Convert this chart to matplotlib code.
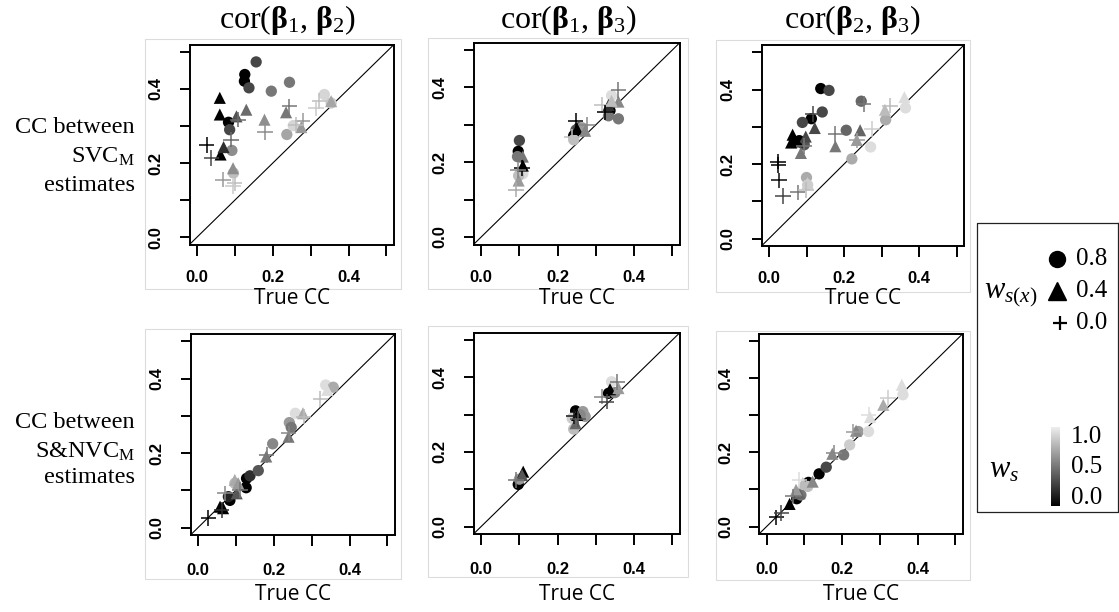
import numpy as np
import matplotlib
matplotlib.use('Agg')
import matplotlib.pyplot as plt
from matplotlib.colors import LinearSegmentedColormap, Normalize
from matplotlib.cm import ScalarMappable
from matplotlib.patches import Rectangle

plt.rcParams['font.family'] = ['Liberation Serif', 'DejaVu Serif']
plt.rcParams['mathtext.fontset'] = 'custom'
plt.rcParams['mathtext.rm'] = 'Liberation Serif'
plt.rcParams['mathtext.it'] = 'Liberation Serif:italic'
plt.rcParams['mathtext.bf'] = 'Liberation Serif:bold'

# ---------------- data ----------------
col_titles = [r'cor($\mathbf{\beta}_1$, $\mathbf{\beta}_2$)',
              r'cor($\mathbf{\beta}_1$, $\mathbf{\beta}_3$)',
              r'cor($\mathbf{\beta}_2$, $\mathbf{\beta}_3$)']
row_labels = [['CC between', r'SVC$_\mathrm{M}$', 'estimates'],
              ['CC between', r'S&NVC$_\mathrm{M}$', 'estimates']]
x_label = 'True CC'
ticks = [0.0, 0.1, 0.2, 0.3, 0.4, 0.5]
tick_labels = ['0.0', '', '0.2', '', '0.4', '']
wsx_levels = [0.8, 0.4, 0.0]
wsx_labels = ['0.8', '0.4', '0.0']
ws_labels = ['1.0', '0.5', '0.0']

# panel 1: top-left  (true CC, estimated CC, w_s(x), w_s)
p1_true = [0.156, 0.126, 0.125, 0.137, 0.196, 0.244, 0.083, 0.086, 0.092, 0.096, 0.237, 0.254, 0.336, 0.354,
           0.060, 0.060, 0.062, 0.070, 0.104, 0.130, 0.178, 0.235, 0.275, 0.095, 0.354,
           0.025, 0.038, 0.108, 0.090, 0.180, 0.244, 0.279, 0.323, 0.314, 0.068, 0.099, 0.095, 0.261]
p1_est = [0.473, 0.439, 0.421, 0.403, 0.394, 0.418, 0.310, 0.290, 0.234, 0.173, 0.277, 0.301, 0.385, 0.362,
          0.376, 0.331, 0.223, 0.243, 0.326, 0.344, 0.317, 0.337, 0.297, 0.186, 0.367,
          0.248, 0.214, 0.317, 0.263, 0.283, 0.353, 0.313, 0.367, 0.349, 0.155, 0.146, 0.137, 0.304]
p1_wsx = [0.8]*14 + [0.4]*11 + [0.0]*13
p1_ws = [0.3, 0.0, 0.0, 0.3, 0.5, 0.5, 0.0, 0.3, 0.6, 0.8, 0.7, 0.9, 0.9, 0.85,
         0.0, 0.0, 0.0, 0.2, 0.35, 0.45, 0.6, 0.5, 0.65, 0.6, 0.7,
         0.0, 0.3, 0.45, 0.45, 0.6, 0.5, 0.65, 0.8, 0.85, 0.65, 0.8, 0.85, 0.8]

# panel 2: top-middle
p2_true = [0.100, 0.097, 0.095, 0.109, 0.098, 0.248, 0.242, 0.255, 0.242, 0.264, 0.341, 0.337, 0.359, 0.333,
           0.109, 0.109, 0.098, 0.251, 0.272, 0.333, 0.359, 0.341,
           0.107, 0.097, 0.091, 0.247, 0.277, 0.238, 0.359, 0.316, 0.324]
p2_est = [0.258, 0.229, 0.215, 0.169, 0.164, 0.286, 0.271, 0.292, 0.260, 0.292, 0.378, 0.338, 0.316, 0.324,
          0.215, 0.191, 0.151, 0.289, 0.284, 0.353, 0.362, 0.364,
          0.185, 0.178, 0.127, 0.311, 0.300, 0.267, 0.393, 0.353, 0.333]
p2_wsx = [0.8]*14 + [0.4]*8 + [0.0]*9
p2_ws = [0.3, 0.0, 0.5, 0.93, 0.8, 0.35, 0.0, 0.3, 0.8, 0.65, 0.93, 0.0, 0.5, 0.5,
         0.5, 0.0, 0.65, 0.0, 0.57, 0.2, 0.57, 0.8,
         0.0, 0.57, 0.72, 0.0, 0.57, 0.8, 0.5, 0.8, 0.0]

# panel 3: top-right
p3_true = [0.138, 0.160, 0.142, 0.113, 0.089, 0.081, 0.094, 0.206, 0.246, 0.221, 0.271, 0.311, 0.364, 0.100, 0.103,
           0.063, 0.068, 0.059, 0.076, 0.098, 0.122, 0.085, 0.177, 0.243, 0.234, 0.309, 0.361, 0.103,
           0.024, 0.025, 0.026, 0.037, 0.076, 0.098, 0.116, 0.177, 0.252, 0.274, 0.322, 0.234, 0.094]
p3_est = [0.403, 0.398, 0.340, 0.322, 0.312, 0.263, 0.252, 0.291, 0.369, 0.214, 0.246, 0.319, 0.351, 0.164, 0.144,
          0.279, 0.265, 0.258, 0.261, 0.274, 0.297, 0.230, 0.248, 0.291, 0.265, 0.346, 0.380, 0.149,
          0.207, 0.198, 0.156, 0.115, 0.124, 0.131, 0.335, 0.281, 0.361, 0.294, 0.357, 0.264, 0.248]
p3_wsx = [0.8]*15 + [0.4]*13 + [0.0]*13
p3_ws = [0.0, 0.3, 0.3, 0.0, 0.3, 0.0, 0.36, 0.43, 0.43, 0.72, 0.93, 0.72, 0.93, 0.72, 0.86,
         0.0, 0.0, 0.0, 0.0, 0.3, 0.3, 0.5, 0.5, 0.43, 0.65, 0.79, 0.93, 0.86,
         0.0, 0.0, 0.05, 0.3, 0.5, 0.79, 0.3, 0.5, 0.5, 0.86, 0.79, 0.65, 0.5]

# panel 4: bottom-left
p4_true = [0.084, 0.080, 0.127, 0.128, 0.137, 0.159, 0.097, 0.197, 0.241, 0.246, 0.257, 0.337, 0.357,
           0.058, 0.066, 0.102, 0.097, 0.106, 0.180, 0.239, 0.277, 0.341,
           0.027, 0.062, 0.071, 0.111, 0.181, 0.239, 0.279, 0.323]
p4_est = [0.073, 0.083, 0.107, 0.132, 0.139, 0.153, 0.119, 0.225, 0.282, 0.269, 0.307, 0.383, 0.377,
          0.056, 0.052, 0.092, 0.128, 0.119, 0.191, 0.244, 0.307, 0.370,
          0.025, 0.047, 0.092, 0.101, 0.195, 0.253, 0.298, 0.345]
p4_wsx = [0.8]*13 + [0.4]*9 + [0.0]*8
p4_ws = [0.0, 0.15, 0.0, 0.0, 0.2, 0.36, 0.79, 0.57, 0.65, 0.5, 0.93, 0.93, 0.72,
         0.0, 0.0, 0.36, 0.72, 0.65, 0.5, 0.5, 0.72, 0.93,
         0.0, 0.2, 0.57, 0.5, 0.5, 0.57, 0.79, 0.79]

# panel 5: bottom-middle
p5_true = [0.097, 0.100, 0.247, 0.238, 0.266, 0.272, 0.242, 0.259, 0.341, 0.333, 0.350,
           0.110, 0.107, 0.251, 0.247, 0.337, 0.359,
           0.091, 0.242, 0.253, 0.356, 0.316, 0.328]
p5_est = [0.113, 0.127, 0.310, 0.290, 0.308, 0.295, 0.261, 0.299, 0.388, 0.357, 0.359,
          0.147, 0.138, 0.299, 0.277, 0.368, 0.371,
          0.125, 0.295, 0.288, 0.388, 0.348, 0.335]
p5_wsx = [0.8]*11 + [0.4]*6 + [0.0]*6
p5_ws = [0.0, 0.65, 0.0, 0.86, 0.65, 0.65, 0.79, 0.57, 0.93, 0.0, 0.57,
         0.0, 0.36, 0.0, 0.43, 0.0, 0.65,
         0.5, 0.1, 0.36, 0.5, 0.57, 0.3]

# panel 6: bottom-right
p6_true = [0.080, 0.111, 0.139, 0.158, 0.091, 0.109, 0.204, 0.220, 0.243, 0.270, 0.361,
           0.061, 0.087, 0.096, 0.078, 0.122, 0.174, 0.237, 0.274, 0.309, 0.358,
           0.026, 0.039, 0.087, 0.070, 0.178, 0.230, 0.270, 0.322]
p6_est = [0.075, 0.119, 0.142, 0.160, 0.085, 0.108, 0.193, 0.220, 0.256, 0.256, 0.355,
          0.061, 0.090, 0.117, 0.099, 0.121, 0.196, 0.258, 0.295, 0.328, 0.382,
          0.025, 0.036, 0.126, 0.081, 0.198, 0.256, 0.301, 0.346]
p6_wsx = [0.8]*11 + [0.4]*10 + [0.0]*8
p6_ws = [0.0, 0.0, 0.0, 0.3, 0.5, 0.8, 0.5, 0.86, 0.65, 0.93, 0.93,
         0.0, 0.43, 0.79, 0.65, 0.57, 0.57, 0.57, 0.93, 0.72, 0.93,
         0.0, 0.3, 0.93, 0.5, 0.57, 0.65, 0.93, 0.86]

panels = [(p1_true, p1_est, p1_wsx, p1_ws), (p2_true, p2_est, p2_wsx, p2_ws),
          (p3_true, p3_est, p3_wsx, p3_ws), (p4_true, p4_est, p4_wsx, p4_ws),
          (p5_true, p5_est, p5_wsx, p5_ws), (p6_true, p6_est, p6_wsx, p6_ws)]

# ---------------- layout (pixels) ----------------
W, H = 1119, 612
fig = plt.figure(figsize=(W / 100, H / 100), dpi=100)

over = fig.add_axes([0, 0, 1, 1])
over.set_xlim(0, W)
over.set_ylim(H, 0)
over.axis('off')

def px_axes(l, t, r, b):
    return fig.add_axes([l / W, 1 - b / H, (r - l) / W, (b - t) / H])

ax_pos = [(189.5, 44.5, 394, 244.5), (473.5, 42.5, 680, 244.5), (761.5, 45, 964, 246),
          (190.5, 334, 395, 535), (473.5, 332.5, 680, 534), (759, 333.5, 963, 534)]
frames = [(145, 39, 401, 289), (428, 38, 688, 289), (716, 40, 970, 292),
          (145, 329, 401, 579), (428, 326, 688, 577), (716, 331, 970, 580)]
title_x = [287, 568, 852]

for (l, t, r, b) in frames:
    over.add_patch(Rectangle((l, t), r - l, b - t, fill=False, ec='#dcdcdc', lw=0.8))

cmap = LinearSegmentedColormap.from_list('ws', [(0, 0, 0), (0.93, 0.93, 0.93)])
norm = Normalize(0, 1)
marker_style = {0.8: dict(marker='o', s=66, edgecolors='none'),
                0.4: dict(marker='^', s=76, edgecolors='none'),
                0.0: dict(marker='+', s=125, linewidths=1.1)}

for i, (pos, data) in enumerate(zip(ax_pos, panels)):
    ax = px_axes(*pos)
    tx, ey, wsx, ws = (np.asarray(d, dtype=float) for d in data)
    ax.axline((0, 0), slope=1, color='black', lw=0.8, zorder=1)
    for lev in wsx_levels:
        m = np.isclose(wsx, lev)
        ax.scatter(tx[m], ey[m], c=ws[m], cmap=cmap, norm=norm, zorder=2, **marker_style[lev])
    ax.set_xlim(-0.02, 0.52)
    ax.set_ylim(-0.02, 0.52)
    ax.set_xticks(ticks)
    ax.set_xticklabels(tick_labels)
    ax.set_yticks(ticks)
    ax.set_yticklabels(tick_labels, rotation=90, va='center')
    for sp in ax.spines.values():
        sp.set_linewidth(1.4)
    row = i // 3
    ax.tick_params(axis='x', length=8, width=1.4, pad=10 if row == 0 else 12)
    ax.tick_params(axis='y', length=7.5, width=1.4, pad=11)
    for lab in ax.get_xticklabels() + ax.get_yticklabels():
        lab.set_fontfamily('Liberation Sans')
        lab.set_fontweight('bold')
        lab.set_fontsize(12)
    cx = (pos[0] + pos[2]) / 2
    over.text(cx, 299 if row == 0 else 594, x_label, fontfamily='Open Sans', fontsize=15,
              ha='center', va='center')

for j, t in enumerate(col_titles):
    over.text(title_x[j], 28, t, fontsize=23, ha='center', va='baseline')

row_baselines = [[133, 163, 191], [428, 458, 483]]
for r in range(2):
    for k, s in enumerate(row_labels[r]):
        over.text(135, row_baselines[r][k], s, fontsize=17.5, ha='right', va='baseline')

# ---------------- legend ----------------
over.plot([1118, 977, 977, 1118, 1118], [223, 223, 512, 512, 223], color='#222222', lw=0.9)
leg_y = [259, 291, 323]
leg_marker = {0.8: dict(marker='o', ms=11.5), 0.4: dict(marker='^', ms=12.5), 0.0: dict(marker='+', ms=9.5, mew=1.6)}
for lev, lab, yy in zip(wsx_levels, wsx_labels, leg_y):
    mx = 1057 if lev != 0.0 else 1060
    over.plot([mx], [yy], color='black', linestyle='none', **leg_marker[lev])
    over.text(1076, yy, lab, fontsize=18, ha='left', va='center')
over.text(984, 298, r'$w_{s(x)}$', fontsize=22, ha='left', va='baseline')
over.text(989, 478, r'$w_s$', fontsize=22, ha='left', va='baseline')

cax = px_axes(1051, 427, 1060, 506)
cb = fig.colorbar(ScalarMappable(norm=norm, cmap=cmap), cax=cax)
cb.outline.set_visible(False)
cax.set_yticks([])
for lab, yy in zip(ws_labels, [437, 467, 498]):
    over.text(1071, yy, lab, fontsize=18, ha='left', va='center')

fig.savefig('out.png', dpi=100)
